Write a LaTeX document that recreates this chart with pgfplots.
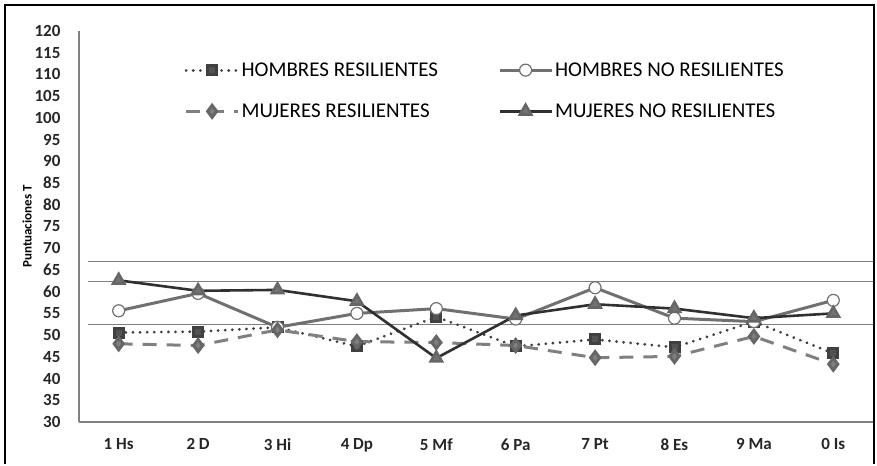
\documentclass[border=0pt]{standalone}
\usepackage{pgfplots}
\pgfplotsset{compat=1.18}
\usepackage{fontspec}
\setmainfont{Carlito}

\definecolor{hr}{HTML}{404040}
\definecolor{hnr}{HTML}{707070}
\definecolor{mr}{HTML}{808080}
\definecolor{mnr}{HTML}{303030}
\definecolor{refl}{HTML}{808080}

\begin{document}
\begin{tikzpicture}[x=1pt,y=1pt]
\path (0,0) rectangle (877,462);
\draw[line width=2.5pt,black] (5,-2) -- (5,457) -- (874,457) -- (874,-2);
\begin{axis}[
    at={(79pt,40pt)}, anchor=south west,
    scale only axis, width=794pt, height=391pt,
    xmin=0.5, xmax=10.5, ymin=30, ymax=120,
    axis x line*=bottom, axis y line*=left,
    axis line style={draw=refl, line width=1.2pt, -},
    xtick={1,...,10},
    xticklabels={1 Hs,2 D,3 Hi,4 Dp,5 Mf,6 Pa,7 Pt,8 Es,9 Ma,0 Is},
    ytick={30,35,...,120},
    major tick length=0pt,
    tick label style={font=\fontsize{17}{18}\selectfont\bfseries, text=black!85},
    /pgf/number format/assume math mode=true,
    yticklabel style={xshift=-15pt},
    xticklabel style={yshift=-13pt},
    ylabel={Puntuaciones T},
    ylabel style={font=\fontsize{13}{14}\selectfont\bfseries, yshift=-4pt},
    legend columns=2,
    legend cell align=left,
    legend style={draw=none, fill=none, at={(0.129,0.93)}, anchor=north west,
        font=\fontsize{21}{22}\selectfont, row sep=22pt,
        /tikz/every even column/.append style={column sep=58pt}},
    legend image code/.code={\draw[mark repeat=2,mark phase=2]
        plot coordinates {(0pt,0pt) (26pt,0pt) (52pt,0pt)};},
]
% horizontal reference lines
\addplot[refl, line width=1.2pt, forget plot] coordinates {(0.61,67) (10.5,67)};
\addplot[refl, line width=1.2pt, forget plot] coordinates {(0.61,62.3) (10.5,62.3)};
\addplot[refl, line width=1.2pt, forget plot] coordinates {(0.61,52.5) (10.5,52.5)};

\addplot[hr, line width=3pt, line cap=round, dash pattern=on 0.1pt off 7pt,
    mark=square*, mark size=4.5pt, mark options={solid, fill=hr!90, draw=hr}]
coordinates {(1,50.6) (2,50.8) (3,51.8) (4,47.4) (5,54.2) (6,47.4) (7,49.0) (8,47.2) (9,53.1) (10,45.8)};
\addlegendentry{HOMBRES RESILIENTES}

\addplot[hnr, line width=3pt,
    mark=*, mark size=6pt, mark options={solid, fill=white, draw=hnr, line width=1.2pt}]
coordinates {(1,55.6) (2,59.6) (3,51.8) (4,55.0) (5,56.1) (6,53.7) (7,60.9) (8,53.9) (9,53.1) (10,58.0)};
\addlegendentry{HOMBRES NO RESILIENTES}

\addplot[mr, line width=3pt, dash pattern=on 14pt off 10pt,
    mark=diamond*, mark size=6pt, mark options={solid, fill=mr, draw=mr!80!black}]
coordinates {(1,48.0) (2,47.6) (3,51.2) (4,48.5) (5,48.3) (6,47.6) (7,44.8) (8,45.1) (9,49.7) (10,43.3)};
\addlegendentry{MUJERES RESILIENTES}

\addplot[mnr, line width=2.6pt,
    mark=triangle*, mark size=6.5pt, mark options={solid, fill=black!55, draw=black!60}]
coordinates {(1,62.6) (2,60.2) (3,60.4) (4,57.8) (5,44.7) (6,54.5) (7,57.1) (8,56.1) (9,53.9) (10,55.0)};
\addlegendentry{MUJERES NO RESILIENTES}
\end{axis}
\end{tikzpicture}
\end{document}
